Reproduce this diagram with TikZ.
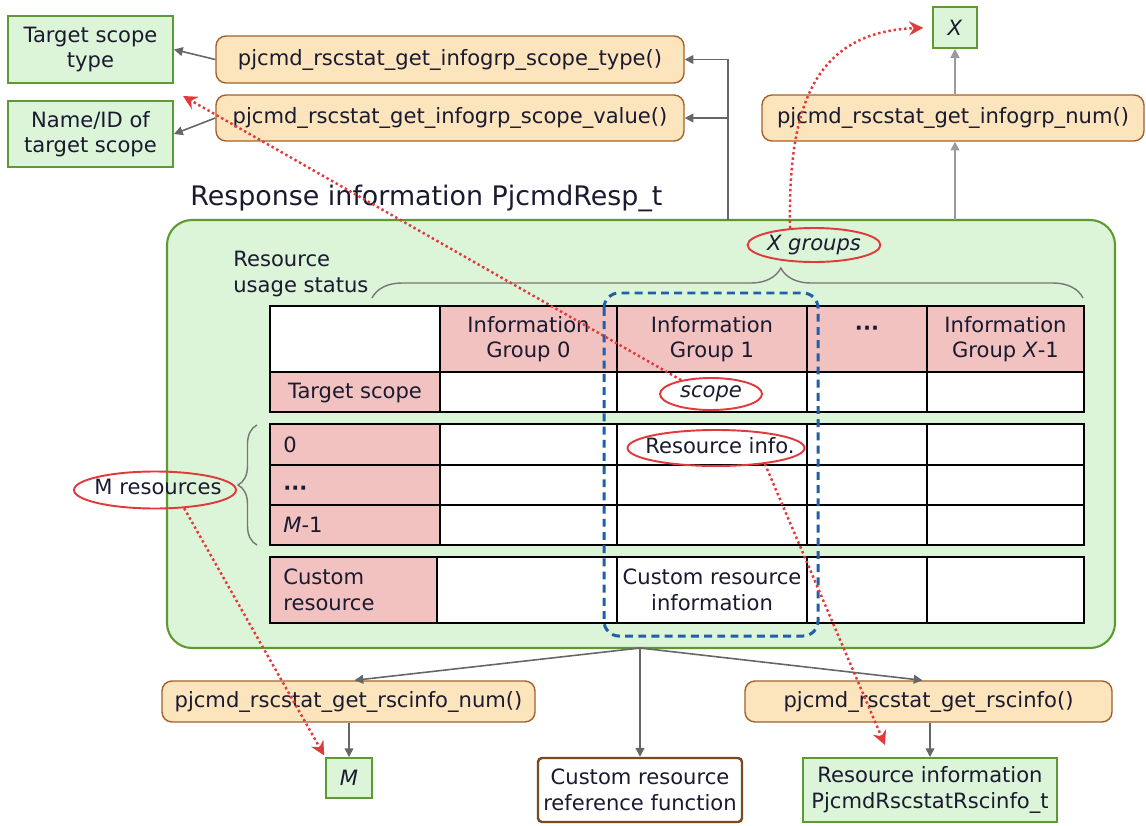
\documentclass[tikz,border=0pt]{standalone}
\usepackage{fontspec}
\setmainfont{DejaVu Sans}
\usetikzlibrary{shapes.geometric,arrows.meta,decorations.pathreplacing,calc}

\definecolor{gfill}{HTML}{DCF4D8}
\definecolor{gline}{HTML}{5E9A34}
\definecolor{ofill}{HTML}{FCE4BC}
\definecolor{oline}{HTML}{A2622C}
\definecolor{cellpink}{HTML}{F2C2C0}
\definecolor{redmark}{HTML}{E23A3C}
\definecolor{bluedash}{HTML}{1F5FAA}
\definecolor{conn}{HTML}{666666}
\definecolor{connlight}{HTML}{9A9A9A}
\definecolor{ink}{HTML}{1A1A30}
\definecolor{brownline}{HTML}{7A4A1E}
\definecolor{bracegray}{HTML}{777777}

\begin{document}
\begin{tikzpicture}[x=0.02cm,y=-0.02cm,
  font=\fontsize{12}{14.5}\selectfont, text=ink,
  wh/.style 2 args={minimum width=#1*0.02cm, minimum height=#2*0.02cm},
  resultbox/.style={draw=gline, fill=gfill, line width=1.1pt, inner sep=0pt, align=center},
  funcbox/.style={draw=oline, fill=ofill, line width=0.8pt, rounded corners=0.2cm, inner sep=0pt},
  refbox/.style={draw=brownline, fill=white, line width=1.4pt, rounded corners=0.08cm, inner sep=0pt, align=center},
  container/.style={draw=gline, fill=gfill, line width=1.2pt, rounded corners=0.5cm},
  tbl/.style={draw=black, line width=0.7pt},
  cell/.style={inner sep=0pt, align=center},
  lcell/.style={inner sep=0pt, anchor=west, align=left},
  hilite/.style={draw=redmark, line width=1.1pt, ellipse, inner sep=0pt},
  garrow/.style={draw=conn, line width=0.9pt, -{Triangle[length=5pt,width=5pt]}},
  larrow/.style={draw=connlight, line width=1pt, -{Triangle[length=5pt,width=5pt]}},
  hint/.style={draw=redmark, line width=1.4pt, dash pattern=on 1.4pt off 1.6pt,
               -{Stealth[length=8pt,width=8pt]}},
  grpbox/.style={draw=bluedash, line width=1.7pt, dash pattern=on 4.5pt off 3pt, rounded corners=0.3cm},
  bracestyle/.style={draw=bracegray, line width=0.8pt, decorate}
]
\useasboundingbox (0,0) rectangle (1146,825);

% ---------- container for the response ----------
\draw[container] (167,220) rectangle (1115,648);
\node[anchor=west, inner sep=0pt, font=\fontsize{15.3}{18}\selectfont] (title) at (190,198) {Response information PjcmdResp\_t};
\coordinate (cont-n-left) at (728,220);
\coordinate (cont-n-right) at (955,220);
\coordinate (cont-s) at (640,648);

% ---------- functions at the top ----------
\node[resultbox, wh={165}{67}] (tst) at (90.5,49.5) {Target scope\\type};
\node[resultbox, wh={165}{66}] (nid) at (90.5,134) {Name/ID of\\target scope};
\node[funcbox, wh={468}{47}] (ftype) at (450,59.5) {pjcmd\_rscstat\_get\_infogrp\_scope\_type()};
\node[funcbox, wh={468}{46}] (fval) at (450,118) {pjcmd\_rscstat\_get\_infogrp\_scope\_value()};
\node[resultbox, wh={44}{41}] (xbox) at (955,27.5) {\textit{X}};
\node[funcbox, wh={382}{46}] (fnum) at (953,118) {pjcmd\_rscstat\_get\_infogrp\_num()};

\draw[garrow] (cont-n-left) |- (ftype.east);
\draw[garrow] (cont-n-left |- fval.east) -- (fval.east);
\draw[garrow] (ftype.west) -- (tst.east);
\draw[garrow] (fval.west) -- (nid.east);
\draw[larrow] (cont-n-right) -- (cont-n-right |- fnum.south);
\draw[larrow] (fnum.north -| xbox) -- (xbox.south);

% ---------- group brace and label ----------
\node[lcell, anchor=north west] (rus) at (233,251) {Resource\\usage status};
\draw[bracestyle, decoration={brace, amplitude=0.6cm, aspect=0.575}] (372,298) -- (1083,298);
\draw[bracestyle, decoration={brace, amplitude=0.38cm}] (257,545) -- (257,425);

% ---------- table: cell backgrounds ----------
\fill[white] (270,306) rectangle (440,372);
\fill[cellpink] (440,306) rectangle (1084,372);
\fill[cellpink] (270,372) rectangle (440,412);
\fill[white] (440,372) rectangle (1084,412);
\fill[cellpink] (270,424) rectangle (440,545);
\fill[white] (440,424) rectangle (1084,545);
\fill[cellpink] (270,557) rectangle (437,623);
\fill[white] (437,557) rectangle (1084,623);

% ---------- table: rules ----------
\draw[tbl] (270,306) rectangle (1084,412);
\draw[tbl] (270,372) -- (1084,372);
\foreach \x in {440,617,807,927} \draw[tbl] (\x,306) -- (\x,412);
\draw[tbl] (270,424) rectangle (1084,545);
\draw[tbl] (270,465) -- (1084,465);
\draw[tbl] (270,505) -- (1084,505);
\foreach \x in {440,617,807,927} \draw[tbl] (\x,424) -- (\x,545);
\draw[tbl] (270,557) rectangle (1084,623);
\foreach \x in {437,617,807,927} \draw[tbl] (\x,557) -- (\x,623);

% ---------- table: texts ----------
\node[cell] (h0) at (528.5,339) {Information\\Group 0};
\node[cell] (h1) at (712,339) {Information\\Group 1};
\node[cell] (hd) at (867,331) {\textbf{···}};
\node[cell] (hx) at (1005.5,339) {Information\\Group \textit{X}-1};
\node[cell] (tsc) at (355,393) {Target scope};
\node[lcell] (r0) at (283,445) {0};
\node[lcell] (rd) at (283,491) {\textbf{···}};
\node[lcell] (rm) at (283,525) {\textit{M}-1};
\node[lcell] (cr) at (283,590) {Custom\\resource};
\node[cell] (cri) at (712,590) {Custom resource\\information};

% ---------- selected group ----------
\draw[grpbox] (604,293) rectangle (818,636);

% ---------- highlighted items ----------
\node[hilite, wh={118}{34}] (xg) at (814,245) {\textit{X groups}};
\node[hilite, wh={102}{32}] (sc) at (711,394) {\textit{scope}};
\node[hilite, wh={177}{36}] (ri) at (716,448) {};
\node[inner sep=0pt] (ritext) at (720,446) {Resource info.};
\node[hilite, wh={162}{37}] (mr) at (155,490) {};
\node[inner sep=0pt] (mrtext) at (158,487) {M resources};

% ---------- functions at the bottom ----------
\node[funcbox, wh={373}{41}] (fnumr) at (348.5,701.5) {pjcmd\_rscstat\_get\_rscinfo\_num()};
\node[funcbox, wh={367}{41}] (frsc) at (928.5,701.5) {pjcmd\_rscstat\_get\_rscinfo()};
\node[resultbox, wh={46}{40}] (mbox) at (349,778) {\textit{M}};
\node[refbox, wh={204}{64}] (cbox) at (640,790) {Custom resource\\reference function};
\node[resultbox, wh={254}{64}] (ribox) at (930,790) {Resource information\\PjcmdRscstatRscinfo\_t};

\draw[garrow] (cont-s) -- ([xshift=0.12cm]fnumr.north);
\draw[garrow] (cont-s) -- ([xshift=-0.12cm]frsc.north);
\draw[garrow] (cont-s) -- (cbox.north);
\draw[garrow] (fnumr.south -| mbox) -- (mbox.north);
\draw[garrow] (frsc.south -| ribox) -- (ribox.north);

% ---------- dotted hints ----------
\coordinate (scopeend) at (183,96);
\coordinate (riend) at (885,745);
\draw[hint] (sc.155) -- (scopeend);
\draw[hint, shorten >=5pt] (xg.145) .. controls (788,110) and (812,32) .. (xbox.west);
\draw[hint, shorten >=1pt] (mr.-32) -- (mbox.north west);
\draw[hint] (ri.-18) -- (riend);

\end{tikzpicture}
\end{document}
